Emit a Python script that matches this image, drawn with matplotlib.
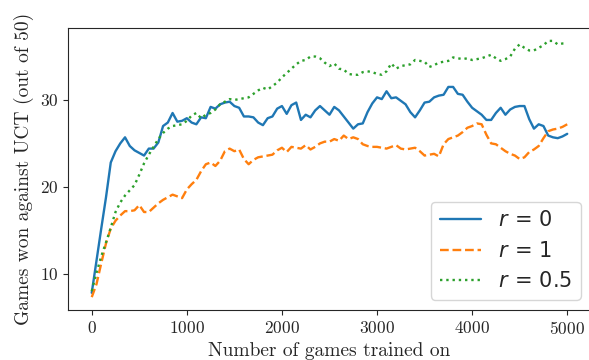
import numpy as np
import matplotlib
matplotlib.use("Agg")
import matplotlib.pyplot as plt
import seaborn as sns

# games trained on, every 50 games
games = np.arange(0, 5001, 50)

# r = 0
wins_r0 = [7.8, 11.5, 15.2, 18.8, 22.8, 24.1, 25.0, 25.7, 24.7, 24.2,
           23.9, 23.6, 24.4, 24.4, 25.1, 27.0, 27.4, 28.5, 27.5, 27.6,
           27.9, 27.4, 27.2, 28.0, 27.9, 29.2, 29.0, 29.5, 29.7, 29.8,
           29.3, 29.1, 28.1, 28.1, 28.0, 27.4, 27.1, 27.9, 28.1, 29.0,
           29.3, 28.4, 29.4, 29.7, 27.7, 28.3, 28.0, 28.8, 29.3, 28.8,
           28.3, 29.2, 28.8, 28.1, 27.4, 26.7, 27.2, 27.3, 28.6, 29.6,
           30.3, 30.1, 31.0, 30.2, 30.3, 29.9, 29.5, 28.6, 28.0, 28.8,
           29.7, 29.8, 30.3, 30.5, 30.6, 31.5, 31.5, 30.7, 30.6, 29.8,
           29.1, 28.7, 28.3, 27.7, 27.7, 28.5, 29.1, 28.3, 28.9, 29.2,
           29.3, 29.3, 27.8, 26.7, 27.2, 27.0, 25.9, 25.7, 25.6, 25.8,
           26.1]

# r = 1
wins_r1 = [7.3, 8.8, 11.2, 13.5, 15.2, 16.1, 16.7, 17.2, 17.2, 17.3,
           17.9, 17.1, 17.1, 17.6, 18.1, 18.5, 18.8, 19.1, 18.9, 18.7,
           19.7, 20.3, 20.8, 21.8, 22.6, 22.8, 22.4, 23.0, 24.1, 24.4,
           24.1, 24.3, 23.2, 22.6, 23.1, 23.4, 23.5, 23.6, 23.7, 24.2,
           24.5, 24.0, 24.6, 24.5, 24.4, 24.8, 24.3, 24.6, 25.0, 25.2,
           25.2, 25.5, 25.3, 25.9, 25.5, 25.7, 25.5, 24.9, 24.7, 24.6,
           24.6, 24.5, 24.4, 24.6, 24.8, 24.4, 24.3, 24.4, 24.5, 24.1,
           23.6, 23.7, 23.8, 23.5, 24.9, 25.5, 25.7, 25.9, 26.3, 26.8,
           27.0, 27.3, 27.2, 26.0, 25.0, 24.9, 24.5, 24.1, 23.8, 23.6,
           23.2, 23.4, 24.0, 24.3, 24.7, 25.6, 26.4, 26.6, 26.7, 26.9,
           27.2]

# r = 0.5
wins_r05 = [8.0, 10.1, 12.0, 13.6, 15.3, 17.1, 18.2, 19.0, 19.6, 20.2,
            21.4, 22.7, 23.7, 24.6, 25.5, 26.2, 26.7, 27.0, 27.1, 27.2,
            27.6, 28.2, 28.5, 27.9, 28.3, 28.5, 28.9, 29.5, 29.8, 30.1,
            30.0, 30.1, 30.2, 30.3, 30.7, 31.1, 31.4, 31.2, 31.6, 32.0,
            32.6, 33.1, 33.6, 34.1, 34.5, 34.6, 35.0, 35.0, 34.8, 34.3,
            33.9, 34.2, 33.6, 33.5, 33.0, 32.9, 32.9, 33.2, 33.3, 33.2,
            33.0, 32.9, 33.3, 34.2, 33.6, 33.9, 34.0, 34.1, 34.6, 34.5,
            34.4, 33.8, 34.0, 34.3, 34.4, 34.5, 34.9, 34.8, 34.7, 34.8,
            34.6, 34.7, 34.8, 35.0, 35.2, 34.8, 34.5, 34.7, 35.0, 35.9,
            36.4, 36.0, 35.7, 35.7, 36.0, 36.3, 36.8, 36.8, 36.4, 36.5,
            36.5]

sns.set_style("ticks")
plt.rcParams['font.family'] = ['cmr10', 'DejaVu Serif']
plt.rcParams['axes.formatter.use_mathtext'] = True
plt.rcParams['mathtext.fontset'] = 'dejavusans'

fig = plt.figure(figsize=(5.89, 3.6), dpi=100)
ax = fig.add_axes([0.1154, 0.139, 0.888, 0.783])

ax.plot(games, wins_r0, '-', lw=1.7, label=r'$r \,=\, 0$')
ax.plot(games, wins_r1, '--', lw=1.7, label=r'$r \,=\, 1$')
ax.plot(games, wins_r05, ':', lw=1.7, label=r'$r \,=\, 0.5$')

ax.set_xticks([0, 1000, 2000, 3000, 4000, 5000])
ax.set_yticks([10, 20, 30])
ax.tick_params(labelsize=12.5)
ax.set_xlabel("Number of games trained on", fontsize=14)
ax.set_ylabel("Games won against UCT (out of 50)", fontsize=14)

ax.legend(loc='lower right', fontsize=15)

fig.savefig("out.png", dpi=100)
